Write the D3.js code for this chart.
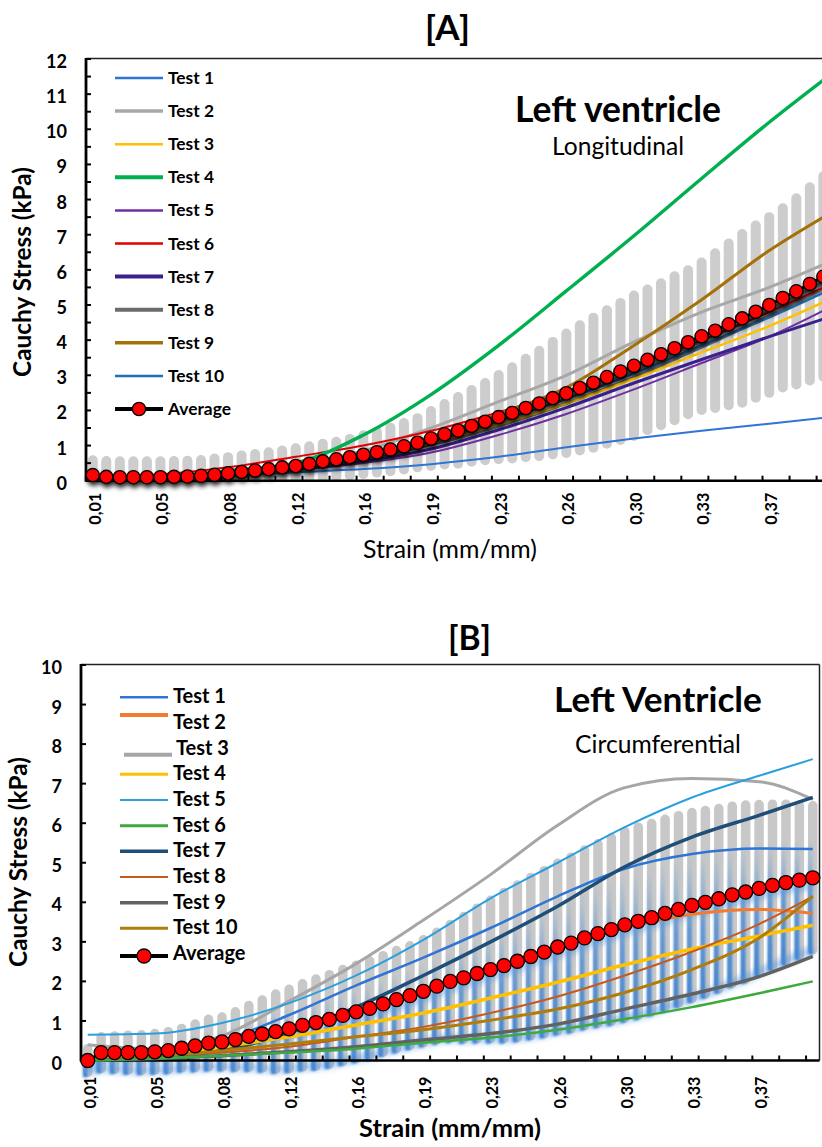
<!DOCTYPE html>
<html><head><meta charset="utf-8">
<script src="https://cdn.jsdelivr.net/npm/d3@7"></script>
<style>body{margin:0;background:#fff}svg{display:block}text{font-family:Lato,"Open Sans",sans-serif;fill:#000}</style>
</head><body><svg id="c" width="822" height="1147"></svg>
<script>
// ---------------- DATA ----------------
const tickLabels = ["0,01","0,05","0,08","0,12","0,16","0,19","0,23","0,26","0,30","0,33","0,37"];
const tickLabelIdx = [0,5,10,15,20,25,30,35,40,45,50];
const testIdx = [0,5,10,15,20,25,30,35,40,45,50,54];
const testNames = ["Test 1","Test 2","Test 3","Test 4","Test 5","Test 6","Test 7","Test 8","Test 9","Test 10"];
const yTicksA = [0,1,2,3,4,5,6,7,8,9,10,11,12];
const yTicksB = [0,1,2,3,4,5,6,7,8,9,10];

// Panel A (longitudinal)
const avgA = [0.16,0.11,0.10,0.10,0.10,0.10,0.11,0.12,0.14,0.17,0.21,0.25,0.29,0.33,0.38,0.42,0.48,0.55,0.61,0.67,
  0.74,0.81,0.89,0.98,1.08,1.20,1.32,1.43,1.56,1.68,1.81,1.93,2.07,2.20,2.35,2.49,2.64,2.79,2.95,3.11,
  3.27,3.44,3.60,3.77,3.94,4.11,4.27,4.45,4.62,4.81,5.00,5.20,5.39,5.60,5.81];
const sdA = [0.42,0.45,0.45,0.45,0.45,0.45,0.45,0.45,0.45,0.46,0.46,0.47,0.47,0.48,0.48,0.50,0.50,0.50,0.50,0.52,
  0.55,0.58,0.62,0.66,0.70,0.78,0.86,0.95,1.02,1.10,1.20,1.30,1.40,1.50,1.60,1.70,1.78,1.85,1.90,1.95,
  2.00,2.00,2.02,2.05,2.05,2.10,2.20,2.30,2.40,2.45,2.50,2.55,2.65,2.75,2.85];
const testA1  = [0.02,0.05,0.13,0.24,0.33,0.47,0.68,0.95,1.20,1.42,1.62,1.79];
const testA2  = [0.10,0.10,0.20,0.45,0.85,1.50,2.25,3.00,3.95,4.80,5.50,6.15];
const testA3  = [0.10,0.08,0.18,0.38,0.65,1.08,1.60,2.20,2.90,3.65,4.40,5.08];
const testA4  = [0.10,0.12,0.28,0.50,1.30,2.45,3.85,5.40,6.97,8.60,10.20,11.40];
const testA5  = [0.05,0.05,0.15,0.30,0.50,0.80,1.30,1.90,2.60,3.35,4.10,4.84];
const testA6  = [0.12,0.18,0.38,0.68,1.00,1.42,1.95,2.55,3.25,4.00,4.80,5.50];
const testA7  = [0.05,0.05,0.17,0.33,0.55,0.90,1.45,2.08,2.78,3.45,4.10,4.60];
const testA8  = [0.05,0.05,0.15,0.35,0.62,1.02,1.55,2.20,2.95,3.80,4.70,5.45];
const testA9  = [0.05,0.05,0.15,0.35,0.70,1.25,1.90,2.65,3.85,5.15,6.55,7.50];
const testA10 = [0.02,0.05,0.17,0.38,0.68,1.12,1.70,2.33,3.05,3.85,4.65,5.35];

// Panel B (circumferential)
const avgB = [0.00,0.20,0.20,0.20,0.20,0.22,0.25,0.31,0.37,0.44,0.47,0.53,0.61,0.67,0.73,0.80,0.89,0.96,1.04,1.14,
  1.23,1.32,1.43,1.54,1.64,1.75,1.88,2.00,2.09,2.20,2.30,2.40,2.51,2.63,2.74,2.87,2.97,3.10,3.21,3.31,
  3.43,3.52,3.61,3.72,3.82,3.92,4.00,4.09,4.19,4.26,4.35,4.43,4.50,4.56,4.62];
const sdB = [0.30,0.40,0.42,0.44,0.45,0.46,0.48,0.50,0.55,0.60,0.63,0.70,0.78,0.86,0.95,1.00,1.05,1.10,1.13,1.16,
  1.18,1.20,1.22,1.24,1.26,1.30,1.36,1.44,1.55,1.65,1.75,1.85,1.93,2.00,2.06,2.12,2.17,2.22,2.27,2.32,
  2.36,2.38,2.38,2.38,2.37,2.35,2.32,2.28,2.24,2.20,2.12,2.05,1.98,1.90,1.82];
const testB1  = [0.05,0.15,0.50,1.15,1.90,2.60,3.35,4.15,4.85,5.22,5.36,5.35];
const testB2  = [0.00,0.20,0.45,0.80,1.22,1.72,2.30,2.85,3.35,3.70,3.82,3.72];
const testB3  = [0.40,0.30,0.62,1.50,2.45,3.55,4.70,5.95,6.90,7.13,7.05,6.60];
const testB4  = [0.00,0.15,0.35,0.60,0.90,1.20,1.58,1.98,2.42,2.82,3.15,3.42];
const testB5  = [0.65,0.68,0.95,1.45,2.15,3.05,4.10,5.00,5.90,6.65,7.20,7.62];
const testB6  = [0.00,0.05,0.12,0.20,0.30,0.45,0.58,0.78,1.05,1.35,1.70,2.00];
const testB7  = [0.00,0.10,0.25,0.70,1.35,2.15,3.00,3.90,4.90,5.65,6.20,6.65];
const testB8  = [0.00,0.10,0.20,0.35,0.60,0.85,1.20,1.62,2.15,2.75,3.45,4.15];
const testB9  = [0.00,0.05,0.12,0.22,0.35,0.52,0.68,0.92,1.30,1.68,2.12,2.63];
const testB10 = [0.00,0.10,0.25,0.42,0.60,0.78,1.02,1.30,1.72,2.30,3.10,4.15];

const testsA = [testA1,testA2,testA3,testA4,testA5,testA6,testA7,testA8,testA9,testA10];
const testsB = [testB1,testB2,testB3,testB4,testB5,testB6,testB7,testB8,testB9,testB10];

// ---------------- STYLES ----------------
const colA = ["#2E75D6","#A8A8A8","#FFC000","#00B050","#7030A0","#E00000","#3B1F8E","#6B6B6B","#A5700A","#1F6FB0"];
const wA   = [2,3,2.5,3.5,2,2,3,3,3,2.5];
const legWA= [2.5,3.5,2.5,4,2.5,2.5,4,4,3.5,2.5];
const colB = ["#2E75D6","#F47A2E","#A6A6A6","#FFC000","#2A9FE0","#3DAA3D","#1F4E79","#C65A1E","#626262","#B07D0C"];
const wB   = [2.5,3,3,3.5,2,2.5,3.5,2,3.5,3];
const legWB= [2.5,4,4,3,2,3,3.5,2,3.5,3];

const svg = d3.select("#c");
const defs = svg.append("defs");
defs.append("filter").attr("id","blurA").attr("x","-50%").attr("y","-10%").attr("width","200%").attr("height","120%")
  .append("feGaussianBlur").attr("stdDeviation",0.7);
defs.append("filter").attr("id","shadow").attr("x","-10%").attr("y","-20%").attr("width","120%").attr("height","140%")
  .append("feGaussianBlur").attr("stdDeviation",2.5);
defs.append("filter").attr("id","blurB").attr("x","-100%").attr("y","-20%").attr("width","300%").attr("height","140%")
  .append("feGaussianBlur").attr("stdDeviation",1.3);
defs.append("filter").attr("id","glowB").attr("x","-10%").attr("y","-30%").attr("width","120%").attr("height","160%")
  .append("feGaussianBlur").attr("stdDeviation",3);
const gr = defs.append("linearGradient").attr("id","bgrad").attr("x1",0).attr("y1",1).attr("x2",0).attr("y2",0);
gr.append("stop").attr("offset",0).attr("stop-color","#2f7bd3").attr("stop-opacity",0.9);
gr.append("stop").attr("offset",0.5).attr("stop-color","#3c84d6").attr("stop-opacity",0.7);
gr.append("stop").attr("offset",1).attr("stop-color","#5b9bd5").attr("stop-opacity",0);
defs.append("clipPath").attr("id","clipA").append("rect").attr("x",86).attr("y",58).attr("width",740).attr("height",423);

function fit(t, w){ const L=t.node().getComputedTextLength(); if(L>0) t.attr("font-size", parseFloat(t.attr("font-size"))*w/L); return t; }

function panel(o){
  const g = svg.append("g");
  const x = d3.scaleLinear().domain([-0.5,54.5]).range([o.x0,o.x1]);
  const y = d3.scaleLinear().domain([0,o.ymax]).range([o.yb,o.yt]);
  const line = d3.line().x(d=>x(d[0])).y(d=>y(d[1]));

  // error bars
  const bars = g.append("g");
  if(o.clip) bars.attr("clip-path","url(#"+o.clip+")");
  const bg = bars.append("g").attr("filter","url(#blurA)");
  o.avg.forEach((v,i)=>{
    bg.append("line").attr("x1",x(i)).attr("x2",x(i)).attr("y1",y(v-o.sd[i])).attr("y2",y(v+o.sd[i]))
      .attr("stroke",o.barCol).attr("stroke-width",o.barW).attr("stroke-linecap","round");
  });
  if(o.blue){
    const bb = bars.append("g").attr("filter","url(#blurB)");
    o.avg.forEach((v,i)=>{
      const yt = y(v+o.sd[i]*0.55), yb2 = y(v-o.sd[i])+5;
      bb.append("rect").attr("x",x(i)-5).attr("width",5).attr("y",yt).attr("height",Math.max(1,yb2-yt))
        .attr("fill","url(#bgrad)");
    });
    const lc = d3.line().x(d=>x(d[0])).y(d=>y(d[1])).curve(d3.curveMonotoneX);
    bars.append("path").datum(o.avg.map((v,i)=>[i,v-o.sd[i]])).attr("d",lc)
      .attr("fill","none").attr("stroke","#4a8ede").attr("stroke-width",7).attr("opacity",0.55).attr("filter","url(#glowB)");
    bars.append("path").datum(o.avg.map((v,i)=>[i,v])).attr("d",line)
      .attr("transform","translate(0,7)").attr("fill","none").attr("stroke","#4a8ede").attr("stroke-width",8)
      .attr("opacity",0.5).attr("filter","url(#glowB)");
  }

  // axes frame
  g.append("line").attr("x1",o.x0).attr("x2",o.frameR).attr("y1",o.yt-0.5).attr("y2",o.yt-0.5).attr("stroke","#222").attr("stroke-width",1.5);
  if(o.rightBorder) g.append("line").attr("x1",o.frameR).attr("x2",o.frameR).attr("y1",o.yt-0.5).attr("y2",o.yb).attr("stroke","#222").attr("stroke-width",1.5);
  for(let k=-0.5;k<=54.5;k+=2){
    g.append("line").attr("x1",x(k)).attr("x2",x(k)).attr("y1",o.yb).attr("y2",o.yb-5).attr("stroke","#000").attr("stroke-width",2);
  }
  o.yTickVals.forEach(v=>{
    g.append("line").attr("x1",o.x0).attr("x2",o.x0+5).attr("y1",y(v)).attr("y2",y(v)).attr("stroke","#000").attr("stroke-width",2);
  });
  g.append("line").attr("x1",o.x0).attr("x2",o.frameR).attr("y1",o.yb).attr("y2",o.yb).attr("stroke","#000").attr("stroke-width",2.5);
  g.append("line").attr("x1",o.x0).attr("x2",o.x0).attr("y1",o.yt-1).attr("y2",o.yb+1).attr("stroke","#000").attr("stroke-width",2.8);

  let ylab = [];
  o.yTicks.forEach(v=>{
    ylab.push(g.append("text").attr("x",o.yLabX).attr("y",y(v)+2.5).attr("dy","0.36em").attr("text-anchor","end")
      .attr("font-weight","bold").attr("font-size",18).text(v));
  });
  fit(ylab[ylab.length-1], 21);
  ylab.forEach(t=>t.attr("font-size", ylab[ylab.length-1].attr("font-size")));
  let xlab = [];
  tickLabelIdx.forEach((ix,k)=>{
    const px = x(ix)+2, py = o.yb+o.xLabGap;
    xlab.push(g.append("text").attr("transform",`translate(${px},${py}) rotate(-90)`).attr("dy","0.36em")
      .attr("text-anchor","end").attr("font-weight","bold").attr("font-size",18).text(tickLabels[k]));
  });
  fit(xlab[0], 32);
  xlab.forEach(t=>t.attr("font-size", xlab[0].attr("font-size")));

  // test lines
  const tl = d3.line().x(d=>x(d[0])).y(d=>y(d[1])).curve(d3.curveMonotoneX);
  const tg = g.append("g");
  if(o.clip) tg.attr("clip-path","url(#"+o.clip+")");
  o.order.forEach(k=>{
    tg.append("path").datum(o.tests[k].map((v,j)=>[testIdx[j],v])).attr("d",tl)
      .attr("fill","none").attr("stroke",o.cols[k]).attr("stroke-width",o.ws[k]);
  });

  // average
  const pts = o.avg.map((v,i)=>[i,v]);
  if(o.shadow){
    const sh = g.append("g").attr("filter","url(#shadow)").attr("opacity",0.9).attr("transform","translate(1,4)");
    sh.append("path").datum(pts).attr("d",line).attr("fill","none").attr("stroke","#000").attr("stroke-width",7);
    pts.forEach(p=>sh.append("circle").attr("cx",x(p[0])).attr("cy",y(p[1])).attr("r",o.r).attr("fill","#000"));
  }
  g.append("path").datum(pts).attr("d",line).attr("fill","none").attr("stroke","#000").attr("stroke-width",o.avgW);
  pts.forEach(p=>g.append("circle").attr("cx",x(p[0])).attr("cy",y(p[1])).attr("r",o.r)
    .attr("fill","#FF0000").attr("stroke","#000").attr("stroke-width",1.3));

  // legend
  const lg = g.append("g");
  let ltxt = [];
  for(let k=0;k<11;k++){
    const by = o.legY0 + o.legDY*k;
    const ly = by - 6 + (o.legLineOff[k]||0);
    const lx0 = o.legX0 + (o.legXOff[k]||0), lx1 = o.legX1 + (o.legXOff[k]||0);
    if(k<10){
      lg.append("line").attr("x1",lx0).attr("x2",lx1).attr("y1",ly).attr("y2",ly)
        .attr("stroke",o.cols[k]).attr("stroke-width",o.legW[k]);
    } else {
      lg.append("line").attr("x1",lx0).attr("x2",lx1).attr("y1",ly).attr("y2",ly).attr("stroke","#000").attr("stroke-width",4);
      lg.append("circle").attr("cx",(lx0+lx1)/2).attr("cy",ly).attr("r",o.r).attr("fill","#FF0000").attr("stroke","#000").attr("stroke-width",1.3);
    }
    ltxt.push(lg.append("text").attr("x",o.legTX+(o.legTXOff[k]||0)).attr("y",by).attr("font-weight","bold").attr("font-size",18)
      .text(k<10?testNames[k]:"Average"));
  }
  fit(ltxt[0], o.legTW);
  ltxt.forEach(t=>t.attr("font-size", ltxt[0].attr("font-size")));

  // titles
  fit(svg.append("text").attr("x",o.tagX).attr("y",o.tagY).attr("text-anchor","middle").attr("font-weight","bold").attr("font-size",34).text(o.tag), o.tagW);
  fit(svg.append("text").attr("x",o.t1X).attr("y",o.t1Y).attr("text-anchor","middle").attr("font-weight","bold").attr("font-size",36).text(o.t1), o.t1W);
  fit(svg.append("text").attr("x",o.t1X).attr("y",o.t2Y).attr("text-anchor","middle").attr("font-size",24).text(o.t2), o.t2W);
  fit(svg.append("text").attr("x",450).attr("y",o.xtY).attr("text-anchor","middle").attr("font-weight",o.xtBold?"bold":"normal").attr("font-size",24).text("Strain (mm/mm)"), o.xtW);
  fit(svg.append("text").attr("transform",`translate(${o.ytX},${o.ytY}) rotate(-90)`).attr("text-anchor","middle").attr("font-weight","bold").attr("font-size",24).text("Cauchy Stress (kPa)"), 210);
}

panel({
  x0:86, x1:86+55*13.53, frameR:822, rightBorder:false, yb:480.7, yt:59, ymax:12,
  avg:avgA, sd:sdA, tests:testsA, cols:colA, ws:wA, legW:legWA,
  order:[0,1,4,6,7,2,9,5,8,3],
  barCol:"#cdcdcd", barW:10, blue:false, clip:"clipA", shadow:true, r:6.6, avgW:3,
  yTicks:yTicksA, yTickVals:d3.range(0,12.01,0.5), yLabX:67, xLabGap:12,
  legY0:84, legDY:33.1, legX0:115, legX1:163, legTX:168, legTW:46, legLineOff:{}, legXOff:{}, legTXOff:{},
  tag:"[A]", tagX:447.5, tagY:40, tagW:45,
  t1:"Left ventricle", t1X:618, t1Y:122, t1W:206,
  t2:"Longitudinal", t2Y:155, t2W:132,
  xtY:558, xtW:174, xtBold:false, ytX:31, ytY:272
});
panel({
  x0:81, x1:819.5, frameR:819.5, rightBorder:true, yb:1060.5, yt:665, ymax:10,
  avg:avgB, sd:sdB, tests:testsB, cols:colB, ws:wB, legW:legWB,
  order:[2,4,0,6,3,1,7,9,8,5],
  barCol:"#c8c8c8", barW:9.5, blue:true, clip:null, shadow:false, r:7, avgW:2.5,
  yTicks:yTicksB, yTickVals:yTicksB, yLabX:62, xLabGap:16,
  legY0:703.3, legDY:25.67, legX0:120, legX1:168, legTX:173, legTW:53,
  legLineOff:{1:-8,2:6,10:2}, legXOff:{2:4}, legTXOff:{2:3},
  tag:"[B]", tagX:469.5, tagY:650, tagW:43,
  t1:"Left Ventricle", t1X:658, t1Y:712, t1W:208,
  t2:"Circumferential", t2Y:753, t2W:166,
  xtY:1137, xtW:182, xtBold:true, ytX:27, ytY:862
});
</script></body></html>
